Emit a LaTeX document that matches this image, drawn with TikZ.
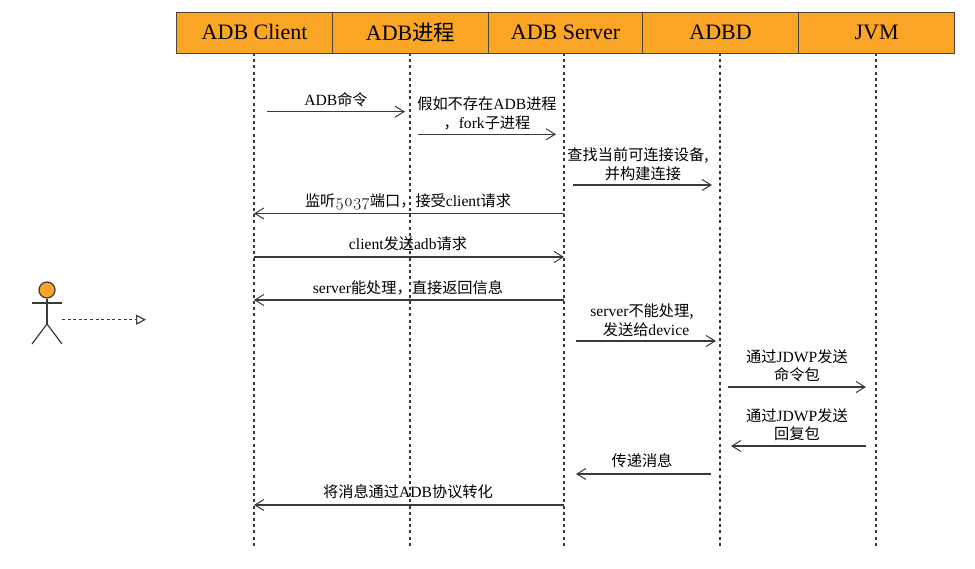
\documentclass[tikz,border=0pt]{standalone}
\usepackage{fontspec}
\setmainfont{Liberation Serif}
\newfontfamily\cjk{Noto Sans CJK SC}[Scale=0.975]
\newfontfamily\osn{Latin Modern Roman}[Numbers=OldStyle,Scale=1.08]
\newcommand{\zh}[1]{{\cjk #1}}
\usetikzlibrary{arrows.meta}
\definecolor{hdr}{HTML}{FBA526}
\definecolor{ink}{HTML}{3A3A3A}
\tikzset{
  x=1pt,y=-1pt,
  hdrbox/.style={draw=ink!90!hdr,line width=1.2pt,fill=hdr,minimum height=41pt,inner sep=0pt,anchor=north west,font=\fontsize{22}{24}\selectfont,text=black,text depth=2pt},
  life/.style={draw=ink,line width=1.2pt,dash pattern=on 3pt off 3.2pt},
  msg/.style={draw=ink,line width=1.2pt,-{Straight Barb[length=9pt,width=11pt,line width=1pt]}},
  lbl/.style={font=\fontsize{15.6}{18.5}\selectfont,align=center,text=black,inner sep=0pt},
  limb/.style={draw=ink,line width=1.2pt},
}
\begin{document}
\begin{tikzpicture}
\useasboundingbox (0,0) rectangle (975,569);
\fill[white] (0,0) rectangle (975,569);
% lifelines ends
\coordinate (e1) at (254,549); \coordinate (e2) at (410,547);
\coordinate (e3) at (564,546); \coordinate (e4) at (720,546); \coordinate (e5) at (876,546);
\foreach \n/\x in {1/254,2/410,3/564,4/720,5/876}{\coordinate (t\n) at (\x,53);}
\draw[life] (t1) -- (e1); \draw[life] (t2) -- (e2); \draw[life] (t3) -- (e3);
\draw[life] (t4) -- (e4); \draw[life] (t5) -- (e5);
% headers
\node[hdrbox,minimum width=156pt] (h1) at (176,12) {ADB Client};
\node[hdrbox,minimum width=156pt] (h2) at (332,12) {ADB\zh{进程}};
\node[hdrbox,minimum width=154pt] (h3) at (488,12) {ADB Server};
\node[hdrbox,minimum width=156pt] (h4) at (642,12) {ADBD};
\node[hdrbox,minimum width=156pt] (h5) at (798,12) {JVM};
% message ends
\coordinate (a1) at (267,111.7); \coordinate (b1) at (405,111.7);
\coordinate (a2) at (418,134.3); \coordinate (b2) at (556,134.3);
\coordinate (a3) at (573,185); \coordinate (b3) at (712,185);
\coordinate (a4) at (564,213.5); \coordinate (b4) at (254,213.5);
\coordinate (a5) at (254,257); \coordinate (b5) at (564,257);
\coordinate (a6) at (564,300); \coordinate (b6) at (254,300);
\coordinate (a7) at (576,341); \coordinate (b7) at (716,341);
\coordinate (a8) at (728,387); \coordinate (b8) at (866,387);
\coordinate (a9) at (866,446); \coordinate (b9) at (731,446);
\coordinate (a10) at (711,474); \coordinate (b10) at (576,474);
\coordinate (a11) at (564,505); \coordinate (b11) at (254,505);
\foreach \n in {1,...,11}{\draw[msg] (a\n) -- (b\n);}
% labels
\node[lbl] (l1) at (336,100) {ADB\zh{命令}};
\node[lbl] (l2) at (487,113.5) {\zh{假如不存在}ADB\zh{进程}\\\zh{，}fork\zh{子进程}};
\node[lbl] (l3) at (643,164) {\zh{查找当前可连接设备,}\hspace*{10pt}\\\zh{并构建连接}};
\node[lbl] (l4) at (408,202) {\zh{监听}{\osn 5037}\zh{端口，接受}client\zh{请求}};
\node[lbl] (l5) at (408,244) {client\zh{发送}adb\zh{请求}};
\node[lbl] (l6) at (408,288) {server\zh{能处理，直接返回信息}};
\node[lbl] (l7) at (642,320) {server\zh{不能处理,}\\\hspace*{8pt}\zh{发送给}device};
\node[lbl] (l8) at (797,365.5) {\zh{通过}JDWP\zh{发送}\\\zh{命令包}};
\node[lbl] (l9) at (797,424.5) {\zh{通过}JDWP\zh{发送}\\\zh{回复包}};
\node[lbl] (l10) at (642,461) {\zh{传递消息}};
\node[lbl] (l11) at (408,492) {\zh{将消息通过}ADB\zh{协议转化}};
% actor
\node[circle,draw=ink,line width=1.2pt,fill=hdr,minimum size=16pt,inner sep=0pt] (head) at (47,290) {};
\coordinate (armL) at (32,303); \coordinate (armR) at (62,303);
\coordinate (hip) at (47,324); \coordinate (legL) at (32,344); \coordinate (legR) at (62,344);
\draw[limb] (head) -- (hip);
\draw[limb] (armL) -- (armR);
\draw[limb] (legL) -- (hip) -- (legR);
\coordinate (d1) at (62,319.7); \coordinate (d2) at (146,319.7);
\draw[draw=ink,line width=1.2pt,dash pattern=on 3pt off 2.6pt,-{Triangle[open,fill=white,length=10pt,width=10pt,line width=1.2pt]}] (d1) -- (d2);
\end{tikzpicture}
\end{document}
